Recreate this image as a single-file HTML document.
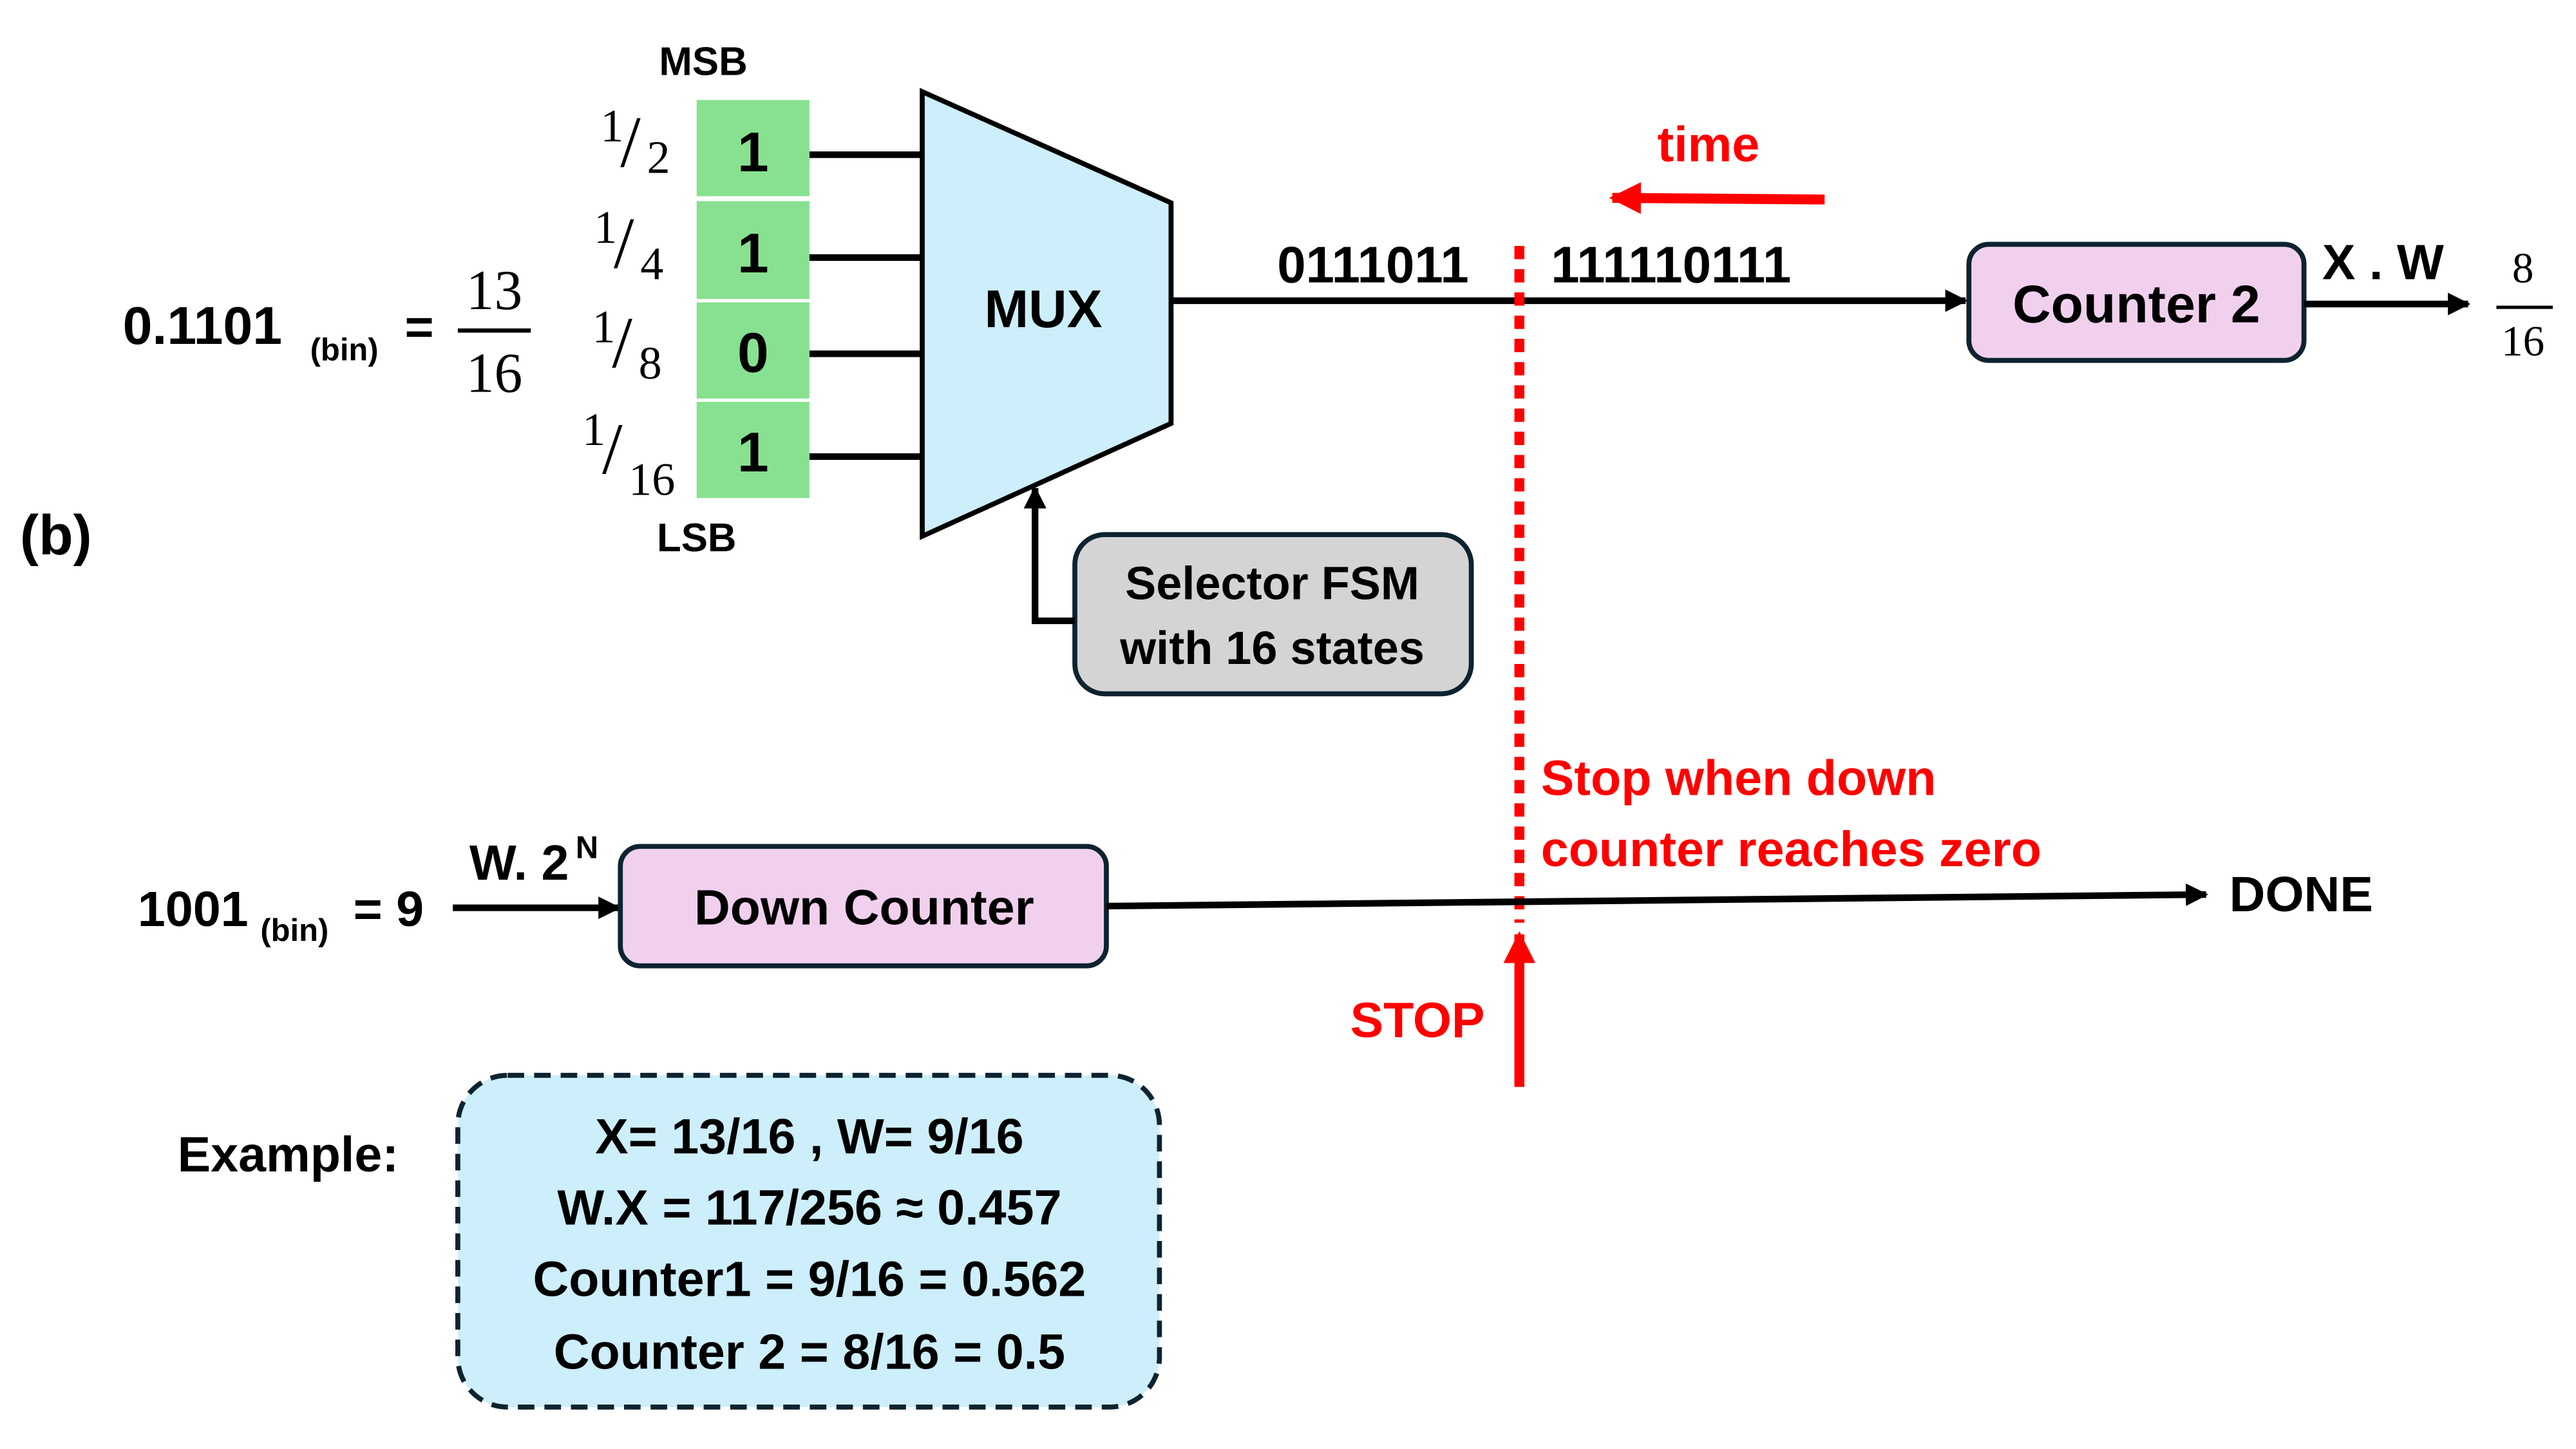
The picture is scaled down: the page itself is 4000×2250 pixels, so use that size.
<!DOCTYPE html>
<html><head><meta charset="utf-8"><style>
html,body{margin:0;padding:0;background:#fff;}
svg{display:block;}
text{font-family:"Liberation Sans",sans-serif;font-weight:bold;fill:#000;}
.s{font-family:"Liberation Serif",serif;font-weight:normal;}
.r{fill:#ff0000;}
</style></head><body>
<svg width="4000" height="2250" viewBox="0 0 1553 873" xmlns="http://www.w3.org/2000/svg">
<defs>
<marker id="a" viewBox="0 0 10 10" refX="9" refY="5" markerWidth="3.4" markerHeight="3.4" orient="auto"><path d="M0,0L10,5L0,10z" fill="#000"/></marker>
<marker id="ar" viewBox="0 0 10 10" refX="9" refY="5" markerWidth="3.2" markerHeight="3.6" orient="auto"><path d="M0,0L10,5L0,10z" fill="#f00"/></marker>
</defs>
<rect width="1553" height="873" fill="#fff"/>
<text x="12" y="334" font-size="34">(b)</text>
<text x="74" y="207" font-size="32">0.1101</text>
<text x="187" y="217" font-size="19">(bin)</text>
<text x="244" y="207" font-size="30">=</text>
<text class="s" x="298" y="186" font-size="34" text-anchor="middle">13</text>
<line x1="276" y1="199" x2="320" y2="199" stroke="#000" stroke-width="2.5"/>
<text class="s" x="298" y="236" font-size="34" text-anchor="middle">16</text>
<text x="424" y="45" font-size="24" text-anchor="middle">MSB</text>
<text x="420" y="332" font-size="24" text-anchor="middle">LSB</text>
<g fill="#88e190">
<rect x="420" y="60" width="68" height="58"/><rect x="420" y="121" width="68" height="59"/>
<rect x="420" y="182" width="68" height="58"/><rect x="420" y="242" width="68" height="58"/>
</g>
<g font-size="34" text-anchor="middle">
<text x="454" y="103">1</text><text x="454" y="164">1</text><text x="454" y="224">0</text><text x="454" y="284">1</text>
</g>
<g>
<text class="s" x="362" y="85" font-size="28">1</text><text class="s" x="374" y="100" font-size="44">/</text><text class="s" x="390" y="104" font-size="28">2</text>
<text class="s" x="358" y="146" font-size="28">1</text><text class="s" x="370" y="161" font-size="44">/</text><text class="s" x="386" y="168" font-size="28">4</text>
<text class="s" x="357" y="206" font-size="28">1</text><text class="s" x="369" y="221" font-size="44">/</text><text class="s" x="385" y="228" font-size="28">8</text>
<text class="s" x="351" y="268" font-size="28">1</text><text class="s" x="363" y="285" font-size="44">/</text><text class="s" x="379" y="298" font-size="28">16</text>
</g>
<g stroke="#000" stroke-width="4">
<line x1="488" y1="93" x2="556" y2="93"/><line x1="488" y1="155" x2="556" y2="155"/>
<line x1="488" y1="213" x2="556" y2="213"/><line x1="488" y1="275" x2="556" y2="275"/>
</g>
<polygon points="556,55 706,122 706,255 556,323" fill="#cdeefb" stroke="#000" stroke-width="3"/>
<text x="629" y="197" font-size="32" text-anchor="middle">MUX</text>
<line x1="706" y1="181" x2="1185" y2="181" stroke="#000" stroke-width="4" marker-end="url(#a)"/>
<text x="770" y="170" font-size="31">0111011</text>
<text x="935" y="170" font-size="31">111110111</text>
<line x1="916" y1="148" x2="916" y2="556" stroke="#f00" stroke-width="6" stroke-dasharray="8,6"/>
<text class="r" x="1030" y="97" font-size="30" text-anchor="middle">time</text>
<line x1="1100" y1="120" x2="972" y2="119" stroke="#f00" stroke-width="6" marker-end="url(#ar)"/>
<rect x="1187" y="147" width="202" height="70" rx="12" fill="#f1d0ee" stroke="#0d2330" stroke-width="3"/>
<text x="1288" y="194" font-size="32" text-anchor="middle">Counter 2</text>
<line x1="1389" y1="183" x2="1488" y2="183" stroke="#000" stroke-width="4" marker-end="url(#a)"/>
<text x="1400" y="168" font-size="30">X . W</text>
<text class="s" x="1521" y="170" font-size="26" text-anchor="middle">8</text>
<line x1="1505" y1="185" x2="1539" y2="185" stroke="#000" stroke-width="2"/>
<text class="s" x="1521" y="214" font-size="26" text-anchor="middle">16</text>
<rect x="648" y="322" width="239" height="96" rx="18" fill="#d4d4d4" stroke="#0d2330" stroke-width="3"/>
<text x="767" y="361" font-size="28" text-anchor="middle">Selector FSM</text>
<text x="767" y="400" font-size="28" text-anchor="middle">with 16 states</text>
<polyline points="648,374 624,374 624,294" fill="none" stroke="#000" stroke-width="4" marker-end="url(#a)"/>
<text class="r" x="929" y="479" font-size="30">Stop when down</text>
<text class="r" x="929" y="522" font-size="30">counter reaches zero</text>
<text x="83" y="558" font-size="30">1001</text>
<text x="157" y="567" font-size="19">(bin)</text>
<text x="213" y="558" font-size="30">= 9</text>
<text x="283" y="530" font-size="30">W. 2</text>
<text x="347" y="517" font-size="19">N</text>
<line x1="273" y1="547" x2="373" y2="547" stroke="#000" stroke-width="4" marker-end="url(#a)"/>
<rect x="374" y="510" width="293" height="72" rx="12" fill="#f1d0ee" stroke="#0d2330" stroke-width="3"/>
<text x="521" y="557" font-size="30" text-anchor="middle">Down Counter</text>
<line x1="667" y1="546" x2="1330" y2="539" stroke="#000" stroke-width="4" marker-end="url(#a)"/>
<text x="1344" y="549" font-size="30">DONE</text>
<line x1="916" y1="655" x2="916" y2="563" stroke="#f00" stroke-width="6" marker-end="url(#ar)"/>
<text class="r" x="814" y="625" font-size="30">STOP</text>
<text x="107" y="706" font-size="30">Example:</text>
<rect x="276" y="648" width="423" height="200" rx="30" fill="#cdeefb" stroke="#0d2330" stroke-width="3" stroke-dasharray="10,6"/>
<g font-size="30" text-anchor="middle">
<text x="488" y="695">X= 13/16 , W= 9/16</text>
<text x="488" y="738">W.X = 117/256 ≈ 0.457</text>
<text x="488" y="781">Counter1 = 9/16 = 0.562</text>
<text x="488" y="825">Counter 2 = 8/16 = 0.5</text>
</g>
</svg>
</body></html>
